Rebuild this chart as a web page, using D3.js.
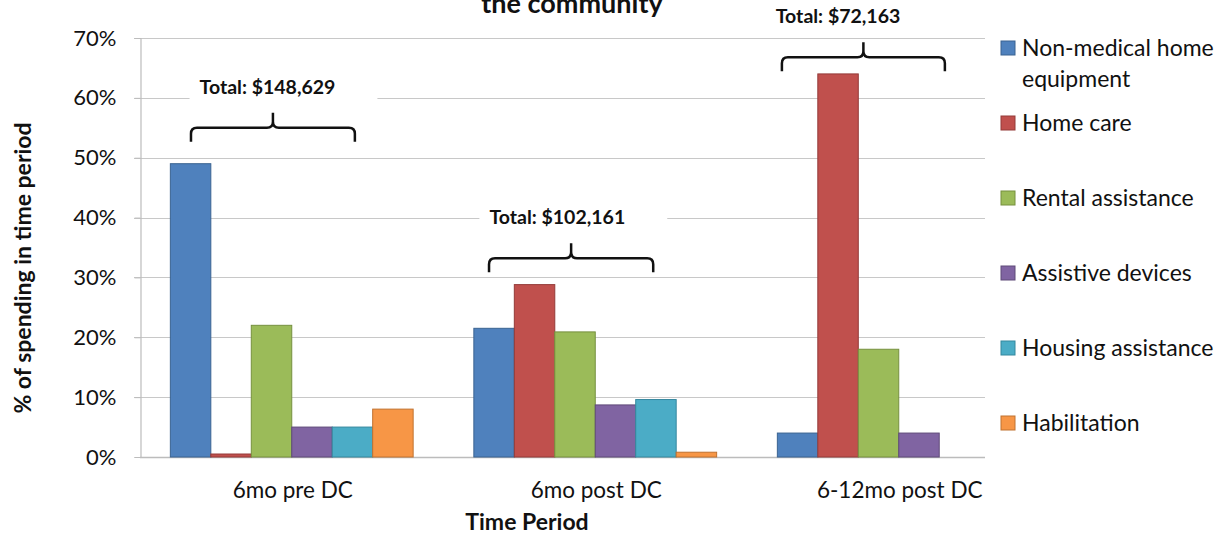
<!DOCTYPE html>
<html><head><meta charset="utf-8">
<script src="https://cdn.jsdelivr.net/npm/d3@7"></script>
<style>
html,body{margin:0;padding:0;background:#fff;}
svg{display:block;font-family:Lato,"Open Sans",sans-serif;}
</style></head>
<body><svg id="c" width="1225" height="535"></svg>
<script>
const categories = ["6mo pre DC", "6mo post DC", "6-12mo post DC"];
const seriesNames = ["Non-medical home equipment", "Home care", "Rental assistance", "Assistive devices", "Housing assistance", "Habilitation"];
const nonMedical = [49, 21.5, 4];
const homeCare = [0.5, 28.8, 64];
const rental = [22, 20.9, 18];
const assistive = [5, 8.7, 4];
const housing = [5, 9.6, 0];
const habilitation = [8, 0.8, 0];
const totals = ["Total: $148,629", "Total: $102,161", "Total: $72,163"];
const yTicks = [0, 10, 20, 30, 40, 50, 60, 70];
const colors = ["#4F81BD", "#C0504D", "#9BBB59", "#8064A2", "#4BACC6", "#F79646"];
const borders = ["#3A6391", "#943B39", "#76903F", "#5F4A79", "#35889E", "#C07230"];

const seriesValues = [nonMedical, homeCare, rental, assistive, housing, habilitation];

(function () {
const svg = d3.select("#c");
const W = 1225;
const pLeft = 140, pTop = 38, pBottom = 457, plotRight = 985, bandRight = 1050.5;

const x = d3.scaleBand().domain(categories).range([pLeft, bandRight]).padding(0);
const bw = x.bandwidth();
const barW = bw / 7.5;
const xs = d3.scaleBand().domain(seriesNames).range([0.75 * barW, bw - 0.75 * barW]).padding(0);
const y = d3.scaleLinear().domain([0, 70]).range([pBottom, pTop]);

// gridlines
svg.append("g").selectAll("line").data(yTicks.filter(d => d > 0)).join("line")
  .attr("x1", pLeft - 6).attr("x2", plotRight)
  .attr("y1", d => Math.round(y(d)) + 0.5).attr("y2", d => Math.round(y(d)) + 0.5)
  .attr("stroke", "#c8c8c8").attr("stroke-width", 1.2);

// y axis
const yAxis = d3.axisLeft(y).tickValues(yTicks).tickFormat(d => d + "%").tickSize(6).tickPadding(18);
const gy = svg.append("g").attr("transform", `translate(${pLeft + 0.5},0)`).call(yAxis);
gy.select(".domain").attr("stroke", "#bcbcbc").attr("stroke-width", 1.2);
gy.selectAll(".tick line").attr("stroke", "#bcbcbc");
gy.selectAll(".tick text").attr("font-size", 22).attr("fill", "#111").attr("font-family", "Lato");

// x axis baseline
svg.append("line").attr("x1", pLeft).attr("x2", plotRight)
  .attr("y1", pBottom + 0.5).attr("y2", pBottom + 0.5).attr("stroke", "#bcbcbc").attr("stroke-width", 1.5);

// bars
const barData = [];
seriesValues.forEach((vals, si) => vals.forEach((v, ci) => {
  if (v > 0) barData.push({ s: seriesNames[si], si, c: categories[ci], v });
}));
svg.append("g").selectAll("rect").data(barData).join("rect")
  .attr("x", d => x(d.c) + xs(d.s))
  .attr("y", d => y(d.v))
  .attr("width", xs.bandwidth())
  .attr("height", d => y(0) - y(d.v))
  .attr("fill", d => colors[d.si])
  .attr("stroke", d => borders[d.si]).attr("stroke-width", 1);

// category labels
svg.append("g").selectAll("text").data(categories).join("text")
  .attr("x", d => x(d) + bw / 2 + 1).attr("y", 498)
  .attr("text-anchor", "middle").attr("font-size", 22.5).attr("fill", "#111")
  .text(d => d);

// axis titles
svg.append("text").attr("x", 527).attr("y", 530).attr("text-anchor", "middle")
  .attr("font-size", 23).attr("font-weight", "bold").attr("fill", "#111").text("Time Period");
svg.append("text").attr("transform", "translate(31,268) rotate(-90)").attr("text-anchor", "middle")
  .attr("font-size", 23).attr("font-weight", "bold").attr("fill", "#111").text("% of spending in time period");

// title (cut off)
svg.append("text").attr("x", 572).attr("y", 13).attr("text-anchor", "middle")
  .attr("font-size", 27).attr("font-weight", "bold").attr("fill", "#111").text("the community");

// brace annotations (level in % units, span as fraction of the band)
const braceLevel = [55, 33.2, 66.8];
const braceFrom = [0.168, 0.15, 0.115];
const braceTo = [0.708, 0.691, 0.652];
const labelCenter = [0.42, 0.375, 0.3];
const annG = svg.append("g");
categories.forEach((c, i) => {
  const x0 = x(c) + braceFrom[i] * bw, x1 = x(c) + braceTo[i] * bw, xm = (x0 + x1) / 2;
  const yl = y(braceLevel[i]);
  const r = 6, drop = 14, up = 15;
  const p = `M${x0},${yl + drop} L${x0},${yl + r} Q${x0},${yl} ${x0 + r},${yl} L${xm - r},${yl} Q${xm},${yl} ${xm},${yl - r} L${xm},${yl - up} M${xm},${yl - r} Q${xm},${yl} ${xm + r},${yl} L${x1 - r},${yl} Q${x1},${yl} ${x1},${yl + r} L${x1},${yl + drop}`;
  const lx = x(c) + labelCenter[i] * bw, ly = yl - 34;
  const g = annG.append("g");
  const bg = g.append("rect").attr("fill", "#fff");
  const t = g.append("text").attr("x", lx).attr("y", ly).attr("text-anchor", "middle")
    .attr("font-size", 19.5).attr("font-weight", "bold").attr("fill", "#111").text(totals[i]);
  const bb = t.node().getBBox();
  bg.attr("x", bb.x - 10).attr("y", bb.y - 8).attr("width", bb.width + 52).attr("height", bb.height + 18);
  g.append("path").attr("d", p).attr("fill", "none").attr("stroke", "#111").attr("stroke-width", 2.5);
});

// legend (white box over plot area)
svg.append("rect").attr("x", plotRight).attr("y", 0).attr("width", W - plotRight).attr("height", 470).attr("fill", "#fff");
const legendY = [48, 123, 198, 273, 348, 423];
const legendLines = [["Non-medical home", "equipment"], ["Home care"], ["Rental assistance"], ["Assistive devices"], ["Housing assistance"], ["Habilitation"]];
const lg = svg.append("g").selectAll("g").data(seriesNames).join("g")
  .attr("transform", (d, i) => `translate(1001,${legendY[i]})`);
lg.append("rect").attr("x", 0).attr("y", -7).attr("width", 14).attr("height", 14)
  .attr("fill", (d, i) => colors[i]).attr("stroke", (d, i) => borders[i]).attr("stroke-width", 1);
lg.each(function (d, i) {
  const t = d3.select(this).append("text").attr("x", 21).attr("y", 8).attr("font-size", 23).attr("fill", "#111");
  legendLines[i].forEach((ln, k) => t.append("tspan").attr("x", 21).attr("dy", k === 0 ? 0 : 31).text(ln));
});
})();
</script></body></html>
